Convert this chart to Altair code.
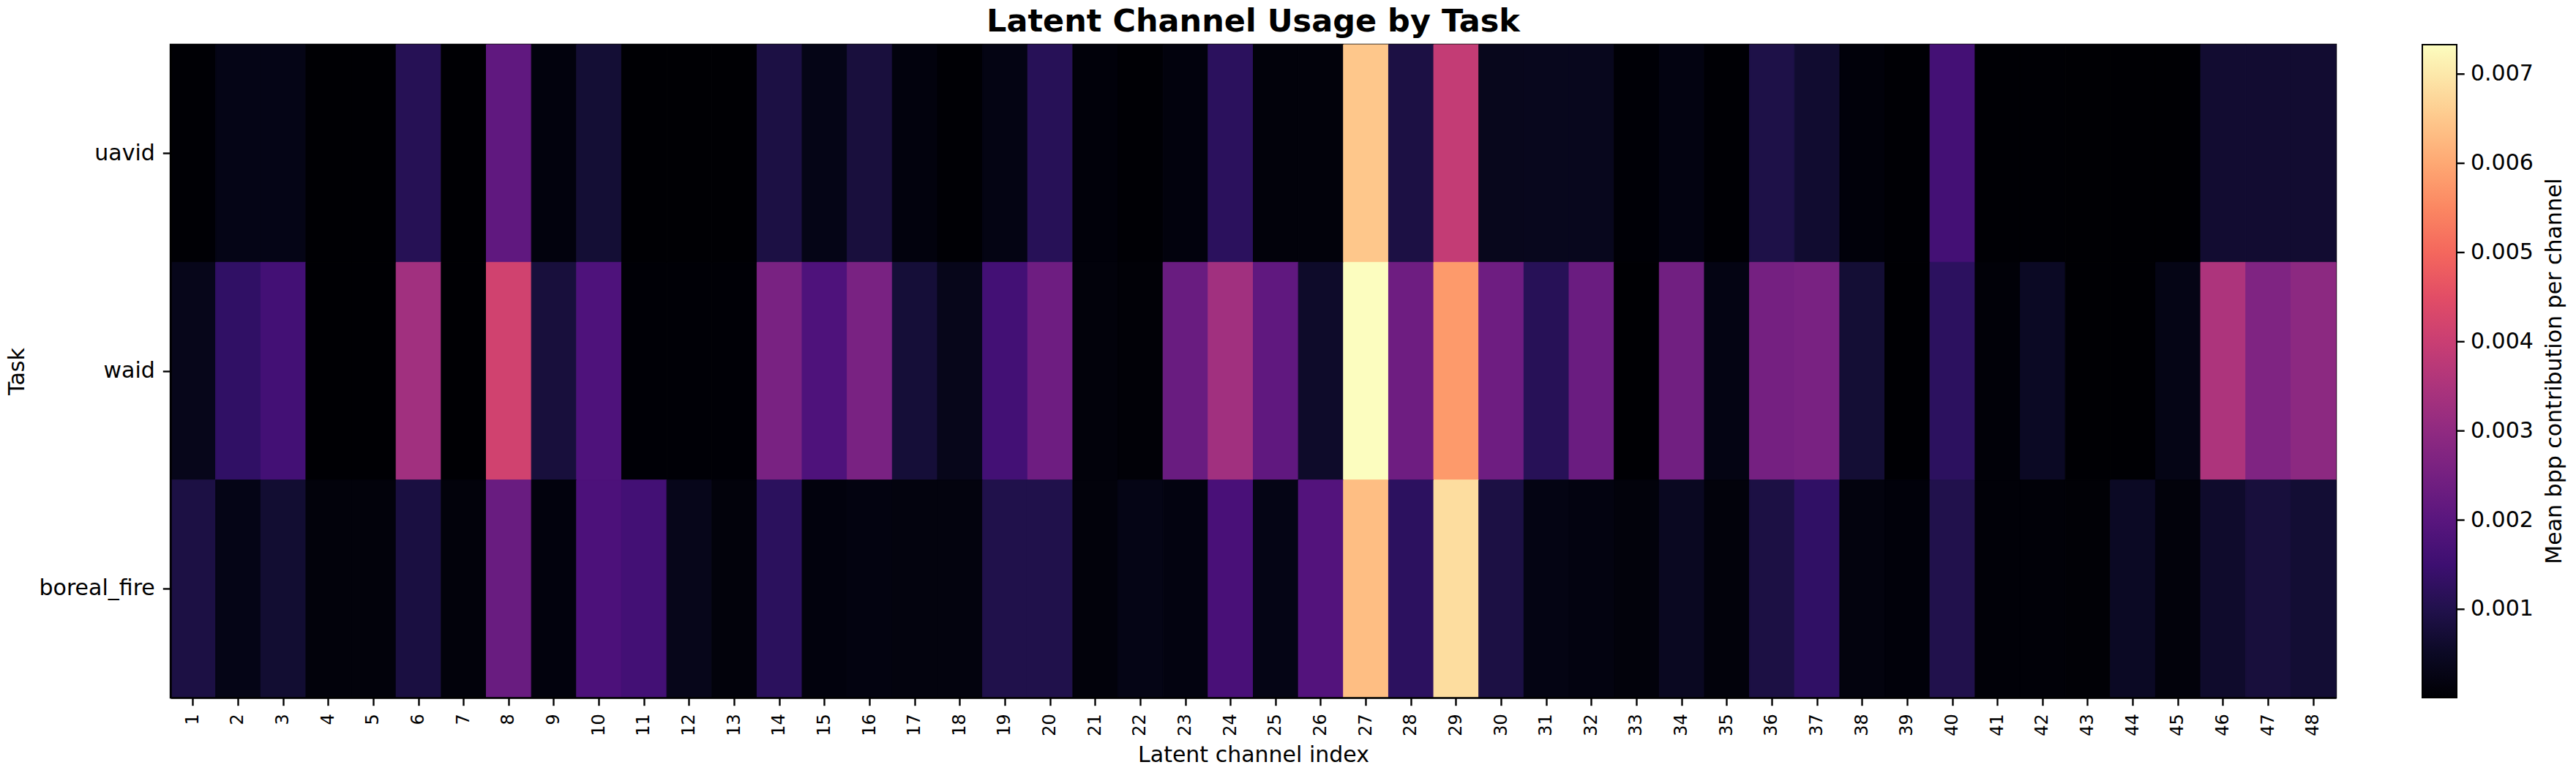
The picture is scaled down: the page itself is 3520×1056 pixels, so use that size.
import altair as alt
import pandas as pd

# ---- data ----
channels = list(range(1, 49))
tasks = ["uavid", "waid", "boreal_fire"]

uavid = [0.00002, 0.00030, 0.00030, 0.00001, 0.00001, 0.00110, 0.00001, 0.00212,
         0.00015, 0.00072, 0.00001, 0.00001, 0.00001, 0.00090, 0.00030, 0.00082,
         0.00015, 0.00002, 0.00025, 0.00112, 0.00010, 0.00002, 0.00015, 0.00120,
         0.00012, 0.00012, 0.00649, 0.00090, 0.00390, 0.00038, 0.00040, 0.00040,
         0.00004, 0.00022, 0.00003, 0.00095, 0.00065, 0.00010, 0.00003, 0.00162,
         0.00002, 0.00002, 0.00001, 0.00001, 0.00001, 0.00066, 0.00066, 0.00066]

waid = [0.00035, 0.00130, 0.00160, 0.00001, 0.00001, 0.00330, 0.00001, 0.00414,
        0.00080, 0.00180, 0.00004, 0.00004, 0.00004, 0.00258, 0.00180, 0.00258,
        0.00075, 0.00035, 0.00160, 0.00237, 0.00012, 0.00006, 0.00228, 0.00330,
        0.00212, 0.00058, 0.00733, 0.00237, 0.00579, 0.00237, 0.00112, 0.00230,
        0.00001, 0.00243, 0.00025, 0.00250, 0.00258, 0.00072, 0.00001, 0.00122,
        0.00008, 0.00050, 0.00001, 0.00001, 0.00028, 0.00352, 0.00270, 0.00293]

boreal_fire = [0.00090, 0.00030, 0.00068, 0.00012, 0.00012, 0.00086, 0.00012, 0.00228,
               0.00015, 0.00176, 0.00160, 0.00035, 0.00012, 0.00120, 0.00015, 0.00020,
               0.00017, 0.00017, 0.00098, 0.00098, 0.00012, 0.00028, 0.00020, 0.00170,
               0.00028, 0.00188, 0.00634, 0.00122, 0.00682, 0.00090, 0.00025, 0.00020,
               0.00012, 0.00045, 0.00012, 0.00090, 0.00130, 0.00017, 0.00010, 0.00100,
               0.00008, 0.00008, 0.00005, 0.00050, 0.00012, 0.00060, 0.00080, 0.00070]

colorbar_ticks = [0.001, 0.002, 0.003, 0.004, 0.005, 0.006, 0.007]

title_text = "Latent Channel Usage by Task"
x_title = "Latent channel index"
y_title = "Task"
cbar_title = "Mean bpp contribution per channel"

rows = []
for t, vals in zip(tasks, [uavid, waid, boreal_fire]):
    for c, v in zip(channels, vals):
        rows.append({"Task": t, "Channel": c, "bpp": v})
df = pd.DataFrame(rows)

all_vals = uavid + waid + boreal_fire
vmin, vmax = min(all_vals), max(all_vals)

# ---- layout ----
L, T = 233, 61
W, H = 2959, 892
TOTAL_W, TOTAL_H = 3520, 1056
FONT = "DejaVu Sans"
CB_X0, CB_X1 = 3310 - L, 3357 - L   # colorbar left/right edges relative to plot

color_scale = alt.Scale(scheme="magma", domain=[vmin, vmax])

heat = alt.Chart(df).mark_rect(
    strokeWidth=1,
    stroke=alt.expr("scale('color', datum.bpp)"),
).encode(
    x=alt.X(
        "Channel:O",
        sort=channels,
        scale=alt.Scale(paddingInner=0, paddingOuter=0),
        axis=alt.Axis(
            title=x_title,
            labelAngle=270,
            labelFont=FONT,
            labelFontSize=24,
            labelColor="black",
            labelPadding=11,
            tickSize=10.7,
            tickWidth=2.4,
            tickColor="black",
            domain=True,
            domainColor="black",
            domainWidth=2.4,
            titleFont=FONT,
            titleFontSize=30,
            titleFontWeight="normal",
            titleColor="black",
            titleBaseline="alphabetic",
            titleY=87,
            zindex=1,
        ),
    ),
    y=alt.Y(
        "Task:O",
        sort=tasks,
        scale=alt.Scale(paddingInner=0, paddingOuter=0),
        axis=alt.Axis(
            title=y_title,
            labelFont=FONT,
            labelFontSize=30,
            labelColor="black",
            labelPadding=11,
            tickSize=10.7,
            tickWidth=2.4,
            tickColor="black",
            domain=True,
            domainColor="black",
            domainWidth=2.4,
            titleFont=FONT,
            titleFontSize=30,
            titleFontWeight="normal",
            titleColor="black",
            titleAngle=270,
            titleAlign="center",
            titleBaseline="alphabetic",
            titleX=32 - L,
            titleY=H / 2,
            zindex=1,
        ),
    ),
    color=alt.Color(
        "bpp:Q",
        scale=color_scale,
        legend=alt.Legend(
            title=None,
            orient="none",
            legendX=CB_X0,
            legendY=0,
            direction="vertical",
            gradientLength=H,
            gradientThickness=CB_X1 - CB_X0,
            gradientStrokeColor="black",
            gradientStrokeWidth=2,
            labelFont=FONT,
            labelFontSize=30,
            labelColor="black",
            labelOffset=19,
            labelOverlap=False,
            values=colorbar_ticks,
            format=".3f",
            padding=0,
        ),
    ),
)

# colorbar tick marks, positioned by a value scale matching the colour domain
cb_ticks = alt.Chart(pd.DataFrame({"v": colorbar_ticks})).mark_rule(
    color="black", strokeWidth=2.4
).encode(
    y=alt.Y("v:Q", scale=alt.Scale(domain=[vmin, vmax], nice=False, zero=False), axis=None),
    x=alt.value(CB_X1),
    x2=alt.value(CB_X1 + 10.7),
)

cb_label = alt.Chart(pd.DataFrame({"label": [cbar_title]})).mark_text(
    angle=270,
    font=FONT,
    fontSize=30,
    align="center",
    baseline="alphabetic",
    color="black",
).encode(
    text="label:N",
    x=alt.value(3500 - L),
    y=alt.value(H / 2),
)

chart = (
    alt.layer(heat, cb_ticks, cb_label)
    .resolve_scale(y="independent")
    .properties(
        width=W,
        height=H,
        title=alt.TitleParams(
            title_text,
            font=FONT,
            fontSize=43,
            fontWeight="bold",
            color="black",
            anchor="middle",
            offset=9,
        ),
        autosize=alt.AutoSizeParams(type="none"),
        padding={"left": L, "top": T, "right": TOTAL_W - L - W, "bottom": TOTAL_H - T - H},
        background="white",
    )
    .configure_view(stroke="black", strokeWidth=2.4)
)

chart.save("out.html", embed_options={"renderer": "svg", "actions": False})
